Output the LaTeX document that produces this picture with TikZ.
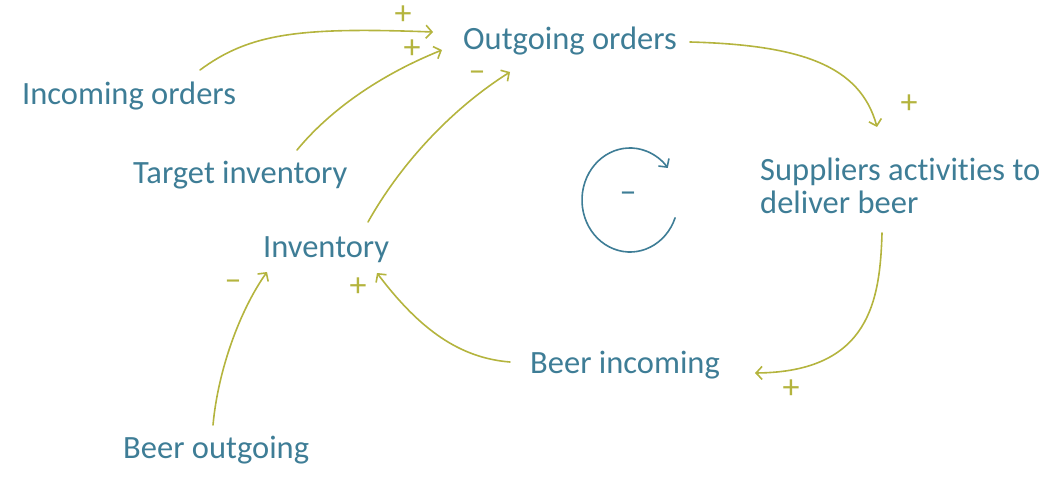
\documentclass[tikz,border=0pt]{standalone}
\usepackage{fontspec}
\setmainfont[RawFeature=-liga]{Carlito}
\usetikzlibrary{arrows.meta,calc}
\definecolor{ink}{HTML}{3E7D96}
\definecolor{olive}{HTML}{B4B43E}
\begin{document}
\begin{tikzpicture}[x=1pt,y=-1pt,
  var/.style={text=ink,font=\fontsize{32.5}{36}\selectfont,inner sep=0pt,anchor=base west},
  tip/.style={-{Straight Barb[length=6pt,width=13pt,line width=1.6pt]}},
  link/.style={draw=olive,line width=1.6pt,line cap=round,tip},
  sign/.style={text=olive,font=\fontsize{34}{34}\selectfont,inner sep=0pt}]
\useasboundingbox (0,0) rectangle (1056,481);

% variables
\node[var] (out) at (463,50) {Outgoing orders};
\node[var] (inc) at (22,105) {Incoming orders};
\node[var] (tgt) at (133,183) {Target inventory};
\node[var] (inv) at (263,257) {Inventory};
\node[var] (sup) at (760,180) {Suppliers activities to};
\node[var] (sup2) at (760,213) {deliver beer};
\node[var] (bin) at (530,373) {Beer incoming};
\node[var] (bout) at (123,458) {Beer outgoing};

% causal links
\draw[link] ([shift={(178,-35)}]inc.base west) .. controls (250,33) and (300,27) .. ([shift={(-30,-18)}]out.base west);
\draw[link] ([shift={(164,-33)}]tgt.base west) .. controls (330,110) and (380,75) .. ([shift={(-21,0)}]out.base west);
\draw[link] ([shift={(105,-35)}]inv.base west) .. controls (400,165) and (450,110) .. ([shift={(47,22)}]out.base west);
\draw[link] ([shift={(227,-8)}]out.base west) .. controls (800,45) and (860,65) .. ([shift={(117,-53)}]sup.base west);
\draw[link] ([shift={(122,20)}]sup2.base west) .. controls (880,300) and (870,372) .. ([shift={(225,0)}]bin.base west);
\draw[link] ([shift={(-20,-11)}]bin.base west) .. controls (460,358) and (420,330) .. ([shift={(114,16)}]inv.base west);
\draw[link] ([shift={(90,-33)}]bout.base west) .. controls (218,370) and (240,310) .. ([shift={(4,15)}]inv.base west);

% polarities
\node[sign] (s1) at (403,15) {+};
\node[sign] (s2) at (412,49) {+};
\node[sign] (s3) at (477,76) {\textendash};
\node[sign] (s4) at (909,104) {+};
\node[sign] (s5) at (791,389) {+};
\node[sign] (s6) at (358,287) {+};
\node[sign] (s7) at (233,285) {\textendash};

% balancing loop marker
\draw[draw=ink,line width=1.6pt,line cap=round,tip]
  (630,200) ++(20:48 and 52) arc[start angle=20,end angle=322,x radius=48,y radius=52];
\node[text=ink,font=\fontsize{34}{34}\selectfont,inner sep=0pt] (loop) at (628,197) {\textendash};
\end{tikzpicture}
\end{document}
